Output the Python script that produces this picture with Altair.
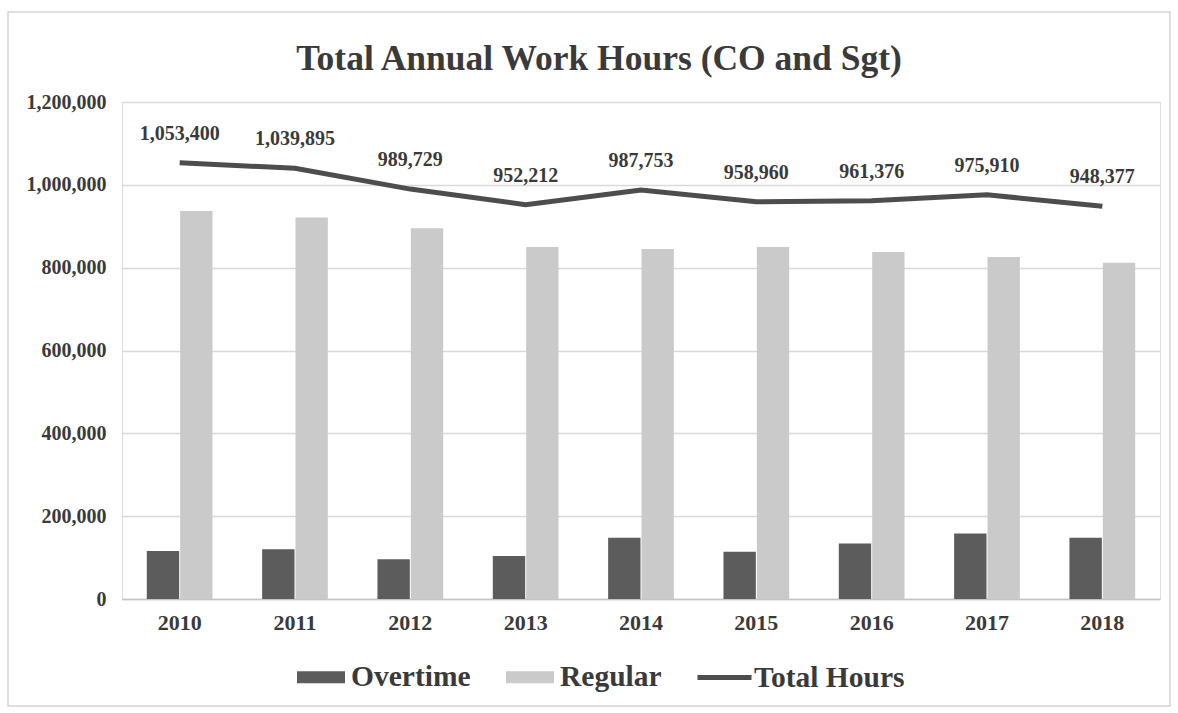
import altair as alt
import pandas as pd

# Annual hours for commanding officers and sergeants
years = ["2010", "2011", "2012", "2013", "2014", "2015", "2016", "2017", "2018"]
overtime = [116000, 120000, 96000, 104000, 148000, 114000, 134000, 158000, 148000]
regular = [937000, 921000, 895000, 850000, 845000, 850000, 838000, 826000, 812000]
total_hours = [1053400, 1039895, 989729, 952212, 987753, 958960, 961376, 975910, 948377]

series_names = ["Overtime", "Regular"]
y_ticks = [0, 200000, 400000, 600000, 800000, 1000000, 1200000]

bars_df = pd.DataFrame(
    [{"year": y, "series": "Overtime", "hours": v} for y, v in zip(years, overtime)]
    + [{"year": y, "series": "Regular", "hours": v} for y, v in zip(years, regular)]
)
line_df = pd.DataFrame({"year": years, "hours": total_hours, "series": "Total Hours"})
line_df["label"] = [f"{v:,}" for v in total_hours]

FONT = "Liberation Serif"
INK = "#3a3a3a"
W, H = 1038, 497

x_enc = alt.X(
    "year:N",
    sort=years,
    scale=alt.Scale(paddingInner=0.43, paddingOuter=0.215),
    axis=alt.Axis(
        title=None, labelAngle=0, ticks=False, labelFont=FONT, labelFontWeight="bold",
        labelColor=INK, labelFontSize=22, labelPadding=13,
        domainColor="#c4c4c4", domainWidth=1.5, grid=False,
    ),
)
y_scale = alt.Scale(domain=[0, 1200000], nice=False)

bars = alt.Chart(bars_df).mark_bar().encode(
    x=x_enc,
    xOffset=alt.XOffset("series:N", sort=series_names, scale=alt.Scale(paddingInner=0.03)),
    y=alt.Y(
        "hours:Q",
        scale=y_scale,
        axis=alt.Axis(
            title=None, values=y_ticks, format=",.0f", ticks=False, domain=False,
            labelFont=FONT, labelFontWeight="bold", labelColor=INK,
            labelFontSize=20, labelPadding=16, gridColor="#d9d9d9", gridWidth=1.5,
        ),
    ),
    fill=alt.Fill(
        "series:N",
        scale=alt.Scale(domain=series_names, range=["#5c5c5c", "#cacaca"]),
        legend=alt.Legend(
            title=None, orient="none", legendX=175, legendY=551, direction="horizontal",
            symbolType="M-1,-0.25H1V0.25H-1Z", symbolSize=2304, symbolStrokeWidth=0,
            labelFont=FONT, labelFontSize=29.5, labelFontWeight="bold", labelColor=INK,
            labelOffset=6, columnPadding=35, padding=0,
        ),
    ),
)

line = alt.Chart(line_df).mark_line(strokeWidth=5).encode(
    x=x_enc,
    y=alt.Y("hours:Q", scale=y_scale),
    stroke=alt.Stroke(
        "series:N",
        scale=alt.Scale(domain=["Total Hours"], range=["#4d4d4d"]),
        legend=alt.Legend(
            title=None, orient="none", legendX=573, legendY=546,
            symbolType="stroke", symbolSize=2916, symbolStrokeWidth=5,
            labelFont=FONT, labelFontSize=29.5, labelFontWeight="bold", labelColor=INK,
            labelOffset=0, padding=0,
        ),
    ),
)

labels = alt.Chart(line_df).mark_text(
    dy=-29, font=FONT, fontSize=20, fontWeight="bold", color=INK
).encode(
    x=x_enc,
    y=alt.Y("hours:Q", scale=y_scale),
    text="label:N",
)

# light outline around the whole figure
frame = alt.Chart(pd.DataFrame({"f": [0]})).mark_rect(
    fill=None, stroke="#d4d4d4", strokeWidth=1.5
).encode(
    x=alt.value(-114), x2=alt.value(W + 10), y=alt.value(-90), y2=alt.value(H + 107)
)

chart = (
    alt.layer(frame, bars, line, labels)
    .properties(
        width=W,
        height=H,
        autosize=alt.AutoSizeParams(type="none"),
        padding={"left": 122, "top": 102, "right": 18, "bottom": 114},
        title=alt.TitleParams(
            text="Total Annual Work Hours (CO and Sgt)",
            font=FONT, fontSize=35.5, fontWeight="bold", color=INK,
            anchor="middle", frame="group", dx=-42, offset=-66,
        ),
    )
    .configure_view(stroke=None)
    .configure(background="white")
)

chart.save("out.html", embed_options={"renderer": "svg", "actions": False})
